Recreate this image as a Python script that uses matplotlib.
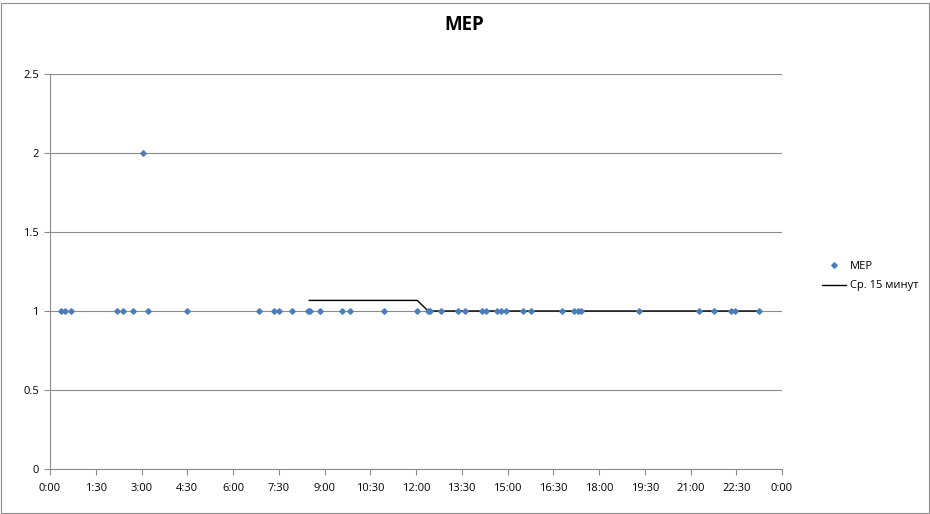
import matplotlib
matplotlib.use("Agg")
import matplotlib.pyplot as plt
from matplotlib.patches import Rectangle
from matplotlib.lines import Line2D

# event times (hours since midnight) and MEP values
mep_hours = [0.36, 0.49, 0.68, 2.19, 2.40, 2.71, 3.05, 3.22, 4.48, 6.85,
             7.35, 7.52, 7.94, 8.46, 8.54, 8.85, 9.56, 9.84, 10.95, 12.04,
             12.40, 12.46, 12.82, 13.39, 13.61, 14.15, 14.30, 14.65, 14.79, 14.94,
             15.50, 15.77, 16.80, 17.18, 17.30, 17.41, 19.30, 21.28, 21.77, 22.33,
             22.46, 23.26]
mep_values = [1, 1, 1, 1, 1, 1, 2, 1, 1, 1,
              1, 1, 1, 1, 1, 1, 1, 1, 1, 1,
              1, 1, 1, 1, 1, 1, 1, 1, 1, 1,
              1, 1, 1, 1, 1, 1, 1, 1, 1, 1,
              1, 1]

# 15-minute average line
avg_hours = [8.50, 12.04, 12.40, 23.26]
avg_values = [1.067, 1.067, 1.0, 1.0]

x_ticks = [0, 1.5, 3, 4.5, 6, 7.5, 9, 10.5, 12, 13.5, 15, 16.5, 18, 19.5, 21, 22.5, 24]
x_labels = ["0:00", "1:30", "3:00", "4:30", "6:00", "7:30", "9:00", "10:30", "12:00",
            "13:30", "15:00", "16:30", "18:00", "19:30", "21:00", "22:30", "0:00"]
y_ticks = [0, 0.5, 1, 1.5, 2, 2.5]
y_labels = ["0", "0.5", "1", "1.5", "2", "2.5"]

plt.rcParams["font.family"] = ["Open Sans", "DejaVu Sans"]

fig = plt.figure(figsize=(9.3, 5.14), dpi=100)
ax = fig.add_axes([50 / 930, 45 / 514, 732 / 930, 395 / 514])

blue = "#4A7EBB"
grid_c = "#8C8C8C"

ax.plot(avg_hours, avg_values, color="black", lw=1.0, zorder=2)
ax.plot(mep_hours, mep_values, ls="none", marker="D", ms=2.8,
        color=blue, mec=blue, zorder=3)

ax.set_xlim(0, 24)
ax.set_ylim(0, 2.5)
ax.set_xticks(x_ticks)
ax.set_xticklabels(x_labels)
ax.set_yticks(y_ticks)
ax.set_yticklabels(y_labels)
ax.tick_params(axis="both", labelsize=8, colors=grid_c, labelcolor="black",
               direction="out", length=4)
ax.tick_params(axis="x", pad=6)
ax.tick_params(axis="y", pad=4)
ax.grid(axis="y", color=grid_c, lw=0.8)
ax.set_axisbelow(True)
for side in ("top", "right"):
    ax.spines[side].set_visible(False)
for side in ("left", "bottom"):
    ax.spines[side].set_color(grid_c)
    ax.spines[side].set_linewidth(0.8)

fig.text(464 / 930, 1 - 25 / 514, "МЕР", ha="center", va="center",
         fontsize=13.5, fontweight="bold")

handles = [
    Line2D([], [], ls="none", marker="D", ms=2.8, color=blue),
    Line2D([], [], color="black", lw=1.0),
]
fig.legend(handles, ["МЕР", "Ср. 15 минут"], loc="center left",
           bbox_to_anchor=(812 / 930, 1 - 276 / 514), frameon=False,
           fontsize=8, handlelength=2.2, handletextpad=0.3, labelspacing=0.8)

fig.patches.append(Rectangle((0.5 / 930, 1.5 / 514), 928 / 930, 510 / 514,
                             transform=fig.transFigure, fill=False,
                             edgecolor="#8C8C8C", lw=0.8))

fig.savefig("out.png", dpi=100, facecolor="white")
